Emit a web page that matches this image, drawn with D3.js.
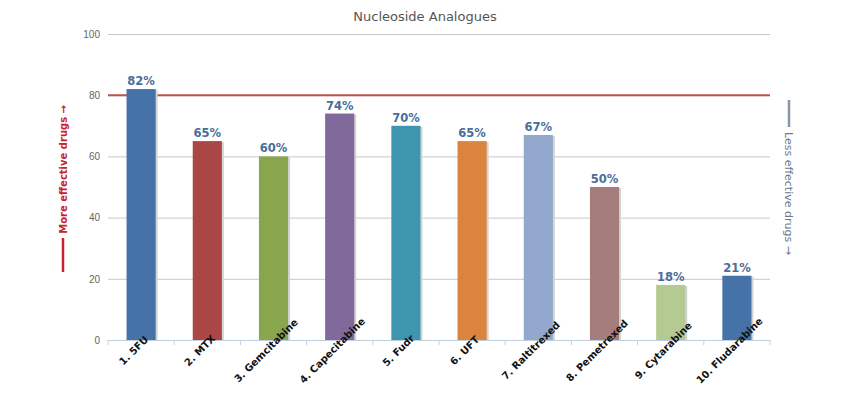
<!DOCTYPE html>
<html><head><meta charset="utf-8">
<script src="https://cdn.jsdelivr.net/npm/d3@7"></script>
<style>body{margin:0;background:#fff}svg{display:block;font-family:"DejaVu Sans",Verdana,sans-serif}</style>
</head><body><svg id="c" width="865" height="395"></svg>
<script>
const categories = ["1. 5FU","2. MTX","3. Gemcitabine","4. Capecitabine","5. Fudr","6. UFT","7. Raltitrexed","8. Pemetrexed","9. Cytarabine","10. Fludarabine"];
const values = [82,65,60,74,70,65,67,50,18,21];
const colors = ["#4572A7","#AA4643","#89A54E","#80699B","#3D96AE","#DB843D","#92A8CD","#A47D7C","#B5CA92","#4572A7"];
const yTicks = [0,20,40,60,80,100];
const threshold = 80;
const title = "Nucleoside Analogues";
const leftTitle = "More effective drugs \u2192";
const rightTitle = "Less effective drugs \u2192";

const svg = d3.select("#c");
const L = 108, R = 770, T = 34, B = 340;
const x = d3.scaleBand().domain(categories).range([L, R]).paddingInner(0.56).paddingOuter(0.28);
const xb = d3.scaleBand().domain(categories).range([L, R]);
const y = d3.scaleLinear().domain([0,100]).range([B, T]);

svg.append("text").attr("x",425).attr("y",21).attr("text-anchor","middle")
  .attr("font-size",13).attr("fill","#555").text(title);

// grid
const yAxis = d3.axisLeft(y).tickValues(yTicks).tickSize(-(R-L)).tickPadding(8);
const gy = svg.append("g").attr("transform",`translate(${L},0)`).call(yAxis);
gy.select(".domain").remove();
gy.selectAll(".tick line").attr("stroke","#c8c8c8");
gy.selectAll(".tick text").attr("fill","#666").attr("font-size",10);

// threshold
svg.append("line").attr("x1",L).attr("x2",R).attr("y1",y(threshold)).attr("y2",y(threshold))
  .attr("stroke","#c0504d").attr("stroke-width",2);

// bars with shadow
const bw = x.bandwidth();
svg.append("g").selectAll("rect").data(values).join("rect")
  .attr("x",(d,i)=>x(categories[i])+2).attr("y",d=>y(d)+1)
  .attr("width",bw).attr("height",d=>B-y(d)-1).attr("fill","#d4d4d4");
svg.append("g").selectAll("rect").data(values).join("rect")
  .attr("x",(d,i)=>x(categories[i])).attr("y",d=>y(d))
  .attr("width",bw).attr("height",d=>B-y(d)).attr("fill",(d,i)=>colors[i]);

// value labels
svg.append("g").selectAll("text").data(values).join("text")
  .attr("x",(d,i)=>x(categories[i])+bw/2).attr("y",d=>y(d)-4)
  .attr("text-anchor","middle").attr("font-size",11.5).attr("font-weight","bold")
  .attr("fill","#4a6d99").text(d=>d+"%");

// x axis
const xAxis = d3.axisBottom(xb).tickSize(0).tickFormat("");
const gx = svg.append("g").attr("transform",`translate(0,${B})`).call(xAxis);
gx.select(".domain").attr("stroke","#c0d0e0");
svg.append("g").selectAll("line").data(d3.range(categories.length+1)).join("line")
  .attr("x1",i=>L+i*xb.step()).attr("x2",i=>L+i*xb.step()).attr("y1",B).attr("y2",B+5)
  .attr("stroke","#c0d0e0");
svg.append("g").selectAll("text").data(categories).join("text")
  .attr("transform",d=>`translate(${xb(d)+xb.bandwidth()/2-5},${B+13}) rotate(-45)`)
  .attr("text-anchor","middle").attr("font-size",10).attr("font-weight","bold")
  .attr("fill","#111").text(d=>d);

// side titles
const lg = svg.append("g").attr("transform","translate(67,0) rotate(-90)");
lg.append("line").attr("x1",-272).attr("x2",-238).attr("y1",-4).attr("y2",-4).attr("stroke","#c8232c").attr("stroke-width",2.5);
lg.append("text").attr("x",-105).attr("y",0).attr("text-anchor","end").attr("font-size",10).attr("font-weight","bold")
  .attr("fill","#c8232c").text(leftTitle);
const rg = svg.append("g").attr("transform","translate(785,0) rotate(90)");
rg.append("line").attr("x1",100).attr("x2",127).attr("y1",-4).attr("y2",-4).attr("stroke","#8797a6").attr("stroke-width",2.5);
rg.append("text").attr("x",132).attr("y",0).attr("font-size",11)
  .attr("fill","#6a7b8b").text(rightTitle);
</script></body></html>
